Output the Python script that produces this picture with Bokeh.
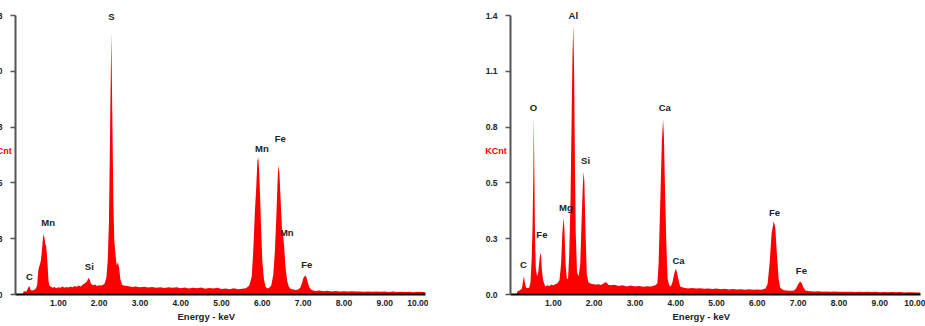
from bokeh.plotting import figure
from bokeh.models import FixedTicker, Range1d, ColumnDataSource, Title
from bokeh.layouts import row
from bokeh.core.properties import value
from bokeh.embed import file_html
from bokeh.resources import INLINE

# ---------------- data ----------------
left_energy = [0.14, 0.18, 0.22, 0.26, 0.29, 0.32, 0.36, 0.40, 0.44, 0.48, 0.51, 0.54, 0.57, 0.60, 0.62,
               0.64, 0.66, 0.68, 0.70, 0.72, 0.74, 0.76, 0.78, 0.82, 0.86, 0.90, 0.95, 1.00, 1.05, 1.10,
               1.15, 1.20, 1.25, 1.30, 1.35, 1.40, 1.45, 1.50, 1.55, 1.60, 1.65, 1.70, 1.74, 1.77, 1.80,
               1.85, 1.90, 1.95, 2.00, 2.05, 2.10, 2.14, 2.18, 2.21, 2.24, 2.26, 2.28, 2.30, 2.31, 2.33,
               2.35, 2.37, 2.40, 2.43, 2.46, 2.49, 2.52, 2.56, 2.60, 2.70, 2.80, 2.90, 3.00, 3.10, 3.20,
               3.30, 3.40, 3.50, 3.60, 3.70, 3.80, 3.90, 4.00, 4.10, 4.20, 4.30, 4.40, 4.50, 4.60, 4.70,
               4.80, 4.90, 5.00, 5.10, 5.20, 5.30, 5.40, 5.50, 5.60, 5.68, 5.74, 5.78, 5.82, 5.85, 5.88,
               5.90, 5.92, 5.94, 5.97, 6.00, 6.04, 6.08, 6.12, 6.17, 6.22, 6.27, 6.31, 6.35, 6.38, 6.40,
               6.42, 6.45, 6.48, 6.51, 6.54, 6.57, 6.61, 6.65, 6.70, 6.76, 6.82, 6.88, 6.93, 6.97, 7.01,
               7.05, 7.08, 7.12, 7.16, 7.21, 7.30, 7.40, 7.50, 7.60, 7.70, 7.80, 7.90, 8.00, 8.10, 8.20,
               8.30, 8.40, 8.50, 8.60, 8.70, 8.80, 8.90, 9.00, 9.10, 9.20, 9.30, 9.40, 9.50, 9.60, 9.70,
               9.80, 9.90, 10.00]
left_counts = [0.012, 0.015, 0.014, 0.030, 0.038, 0.020, 0.018, 0.020, 0.025, 0.040, 0.110, 0.130, 0.150, 0.200, 0.250,
               0.270, 0.255, 0.225, 0.220, 0.180, 0.120, 0.060, 0.040, 0.035, 0.030, 0.034, 0.028, 0.032, 0.030, 0.036,
               0.030, 0.034, 0.031, 0.036, 0.033, 0.038, 0.035, 0.040, 0.036, 0.045, 0.050, 0.058, 0.075, 0.065, 0.048,
               0.042, 0.045, 0.038, 0.042, 0.040, 0.044, 0.050, 0.080, 0.150, 0.320, 0.600, 0.910, 1.175, 1.000, 0.700,
               0.400, 0.250, 0.180, 0.130, 0.145, 0.120, 0.070, 0.045, 0.040, 0.038, 0.034, 0.036, 0.033, 0.035, 0.031,
               0.034, 0.030, 0.033, 0.029, 0.032, 0.030, 0.033, 0.028, 0.031, 0.027, 0.030, 0.028, 0.031, 0.026, 0.029,
               0.027, 0.030, 0.025, 0.027, 0.024, 0.028, 0.024, 0.026, 0.028, 0.040, 0.080, 0.200, 0.380, 0.475, 0.600,
               0.615, 0.560, 0.470, 0.300, 0.150, 0.070, 0.035, 0.027, 0.030, 0.040, 0.090, 0.200, 0.380, 0.540, 0.578,
               0.540, 0.420, 0.300, 0.270, 0.200, 0.120, 0.060, 0.035, 0.025, 0.022, 0.020, 0.022, 0.030, 0.050, 0.075,
               0.085, 0.078, 0.050, 0.030, 0.020, 0.016, 0.018, 0.015, 0.017, 0.014, 0.016, 0.014, 0.015, 0.013, 0.015,
               0.013, 0.014, 0.012, 0.014, 0.012, 0.013, 0.012, 0.013, 0.011, 0.013, 0.011, 0.012, 0.011, 0.012, 0.010,
               0.012, 0.011, 0.011]

right_energy = [0.11, 0.15, 0.19, 0.23, 0.26, 0.28, 0.30, 0.33, 0.37, 0.41, 0.44, 0.47, 0.49, 0.51, 0.52,
                0.535, 0.55, 0.57, 0.60, 0.63, 0.66, 0.68, 0.70, 0.72, 0.75, 0.80, 0.85, 0.90, 0.95, 1.00,
                1.05, 1.10, 1.15, 1.19, 1.22, 1.25, 1.27, 1.30, 1.33, 1.36, 1.39, 1.42, 1.45, 1.47, 1.49,
                1.51, 1.53, 1.55, 1.58, 1.62, 1.66, 1.69, 1.72, 1.74, 1.76, 1.79, 1.82, 1.86, 1.90, 1.95,
                2.00, 2.05, 2.10, 2.15, 2.20, 2.25, 2.30, 2.35, 2.40, 2.50, 2.60, 2.70, 2.80, 2.90, 3.00,
                3.10, 3.20, 3.30, 3.40, 3.50, 3.55, 3.58, 3.62, 3.66, 3.69, 3.71, 3.74, 3.77, 3.80, 3.84,
                3.88, 3.92, 3.96, 4.00, 4.03, 4.07, 4.11, 4.20, 4.30, 4.40, 4.50, 4.60, 4.70, 4.80, 4.90,
                5.00, 5.10, 5.20, 5.30, 5.40, 5.50, 5.60, 5.70, 5.80, 5.90, 6.00, 6.10, 6.20, 6.25, 6.30,
                6.35, 6.40, 6.44, 6.48, 6.52, 6.56, 6.62, 6.70, 6.80, 6.90, 6.95, 7.00, 7.05, 7.09, 7.13,
                7.18, 7.30, 7.40, 7.50, 7.60, 7.70, 7.80, 7.90, 8.00, 8.10, 8.20, 8.30, 8.40, 8.50, 8.60,
                8.70, 8.80, 8.90, 9.00, 9.10, 9.20, 9.30, 9.40, 9.50, 9.60, 9.70, 9.80, 9.90, 10.00]
right_counts = [0.012, 0.018, 0.022, 0.030, 0.070, 0.089, 0.060, 0.035, 0.031, 0.035, 0.060, 0.180, 0.330, 0.600, 0.872,
                0.600, 0.300, 0.130, 0.090, 0.110, 0.170, 0.204, 0.190, 0.120, 0.070, 0.040, 0.045, 0.042, 0.048, 0.045,
                0.050, 0.055, 0.070, 0.150, 0.300, 0.377, 0.330, 0.150, 0.080, 0.075, 0.200, 0.450, 0.900, 1.180, 1.325,
                1.090, 0.640, 0.300, 0.110, 0.090, 0.150, 0.350, 0.520, 0.605, 0.560, 0.300, 0.100, 0.060, 0.056, 0.052,
                0.050, 0.048, 0.052, 0.047, 0.050, 0.058, 0.060, 0.048, 0.045, 0.048, 0.042, 0.046, 0.040, 0.044, 0.039,
                0.042, 0.038, 0.041, 0.040, 0.045, 0.055, 0.150, 0.450, 0.750, 0.864, 0.780, 0.500, 0.250, 0.080, 0.045,
                0.040, 0.060, 0.100, 0.127, 0.110, 0.070, 0.040, 0.033, 0.030, 0.032, 0.029, 0.031, 0.028, 0.030, 0.027,
                0.029, 0.026, 0.028, 0.025, 0.027, 0.025, 0.026, 0.024, 0.026, 0.024, 0.025, 0.023, 0.030, 0.050, 0.150,
                0.300, 0.361, 0.330, 0.200, 0.080, 0.035, 0.024, 0.020, 0.018, 0.020, 0.030, 0.050, 0.064, 0.055, 0.035,
                0.020, 0.016, 0.015, 0.016, 0.014, 0.015, 0.014, 0.015, 0.013, 0.014, 0.013, 0.014, 0.012, 0.013, 0.012,
                0.013, 0.012, 0.013, 0.011, 0.012, 0.011, 0.012, 0.011, 0.012, 0.010, 0.011, 0.011, 0.010, 0.010]

left_peak_names = ["C", "Mn", "Si", "S", "Mn", "Fe", "Mn", "Fe"]
left_peak_x = [0.29, 0.75, 1.76, 2.30, 5.99, 6.44, 6.60, 7.09]
left_peak_y = [0.082, 0.321, 0.127, 1.247, 0.653, 0.700, 0.279, 0.134]

right_peak_names = ["C", "O", "Fe", "Mg", "Al", "Si", "Ca", "Ca", "Fe", "Fe"]
right_peak_x = [0.27, 0.515, 0.72, 1.31, 1.49, 1.79, 3.73, 4.07, 6.42, 7.08]
right_peak_y = [0.147, 0.921, 0.298, 0.427, 1.375, 0.661, 0.921, 0.168, 0.406, 0.119]

left_yticks = [0.0, 0.25, 0.5, 0.75, 1.0, 1.25]
left_ytick_labels = ["0.0", "0.3", "0.5", "0.8", "1.0", "1.3"]
right_yticks = [0.0, 0.275, 0.55, 0.825, 1.1, 1.375]
right_ytick_labels = ["0.0", "0.3", "0.5", "0.8", "1.1", "1.4"]

x_ticks = [1, 2, 3, 4, 5, 6, 7, 8, 9, 10]
x_tick_labels = ["1.00", "2.00", "3.00", "4.00", "5.00", "6.00", "7.00", "8.00", "9.00", "10.00"]

x_title = "Energy - keV"
y_title = "KCnt"

FONT = "Liberation Sans"
X0, X1 = -0.05, 10.0
FW = 410          # frame width
PLOT_H = 279      # height of the axis (0 .. top tick)
HEAD = 8          # free room above the top tick for the peak labels


def make_panel(energy, counts, yticks, yticklabels, names, px, py,
               border_left, border_right, margin):
    ytop = yticks[-1]
    ymax = ytop * (PLOT_H + HEAD) / PLOT_H
    p = figure(frame_width=FW, frame_height=PLOT_H + HEAD,
               min_border_left=border_left, min_border_right=border_right,
               min_border_top=15 - HEAD, min_border_bottom=32,
               x_range=Range1d(X0, X1), y_range=Range1d(0, ymax),
               output_backend="svg", toolbar_location=None, margin=margin)
    p.outline_line_color = None
    p.grid.visible = False
    p.background_fill_color = "white"
    p.border_fill_color = "white"

    p.varea(x=energy, y1=0, y2=counts, fill_color="#ff0000")

    # x axis
    xa = p.xaxis[0]
    xa.ticker = FixedTicker(ticks=x_ticks)
    xa.major_label_overrides = {t: l for t, l in zip(x_ticks, x_tick_labels)}
    xa.axis_line_color = "black"
    xa.axis_line_width = 2
    xa.major_tick_line_color = None
    xa.minor_tick_line_color = None
    xa.major_tick_out = 0
    xa.major_label_standoff = 5
    xa.major_label_text_font = FONT
    xa.major_label_text_font_style = "bold"
    xa.major_label_text_font_size = "8.5px"
    xa.major_label_text_color = "#222222"

    # y axis
    ya = p.yaxis[0]
    ya.bounds = (0, ytop)
    ya.ticker = FixedTicker(ticks=yticks)
    ya.major_label_overrides = {t: l for t, l in zip(yticks, yticklabels)}
    ya.axis_line_color = "#555555"
    ya.axis_line_width = 2
    ya.major_tick_line_color = "#555555"
    ya.major_tick_line_width = 1.5
    ya.major_tick_out = 5
    ya.major_tick_in = 0
    ya.minor_tick_line_color = None
    ya.major_label_standoff = 8
    ya.major_label_text_font = FONT
    ya.major_label_text_font_style = "bold"
    ya.major_label_text_font_size = "8.5px"
    ya.major_label_text_color = "#222222"
    ya.axis_label = y_title
    ya.axis_label_orientation = "horizontal"
    ya.axis_label_standoff = -24
    ya.axis_label_text_font = FONT
    ya.axis_label_text_font_style = "bold"
    ya.axis_label_text_font_size = "9px"
    ya.axis_label_text_color = "#ff0000"

    # peak labels
    src = ColumnDataSource(dict(x=px, y=py, t=names))
    p.text(x="x", y="y", text="t", source=src,
           text_align="center", text_baseline="middle",
           text_font=value(FONT), text_font_style="bold",
           text_font_size="9.5px", text_color="#222222")

    # x title
    p.add_layout(Title(text=x_title, align="left", offset=162, standoff=0,
                       text_font=FONT, text_font_style="bold",
                       text_font_size="9.5px", text_color="#222222"), "below")
    return p


p_left = make_panel(left_energy, left_counts, left_yticks, left_ytick_labels,
                    left_peak_names, left_peak_x, left_peak_y,
                    40, 3, (0, 0, 0, -25))
p_right = make_panel(right_energy, right_counts, right_yticks, right_ytick_labels,
                     right_peak_names, right_peak_x, right_peak_y,
                     82, 5, 0)

layout = row(p_left, p_right, spacing=0)

open("out.html", "w").write(file_html(layout, INLINE))
